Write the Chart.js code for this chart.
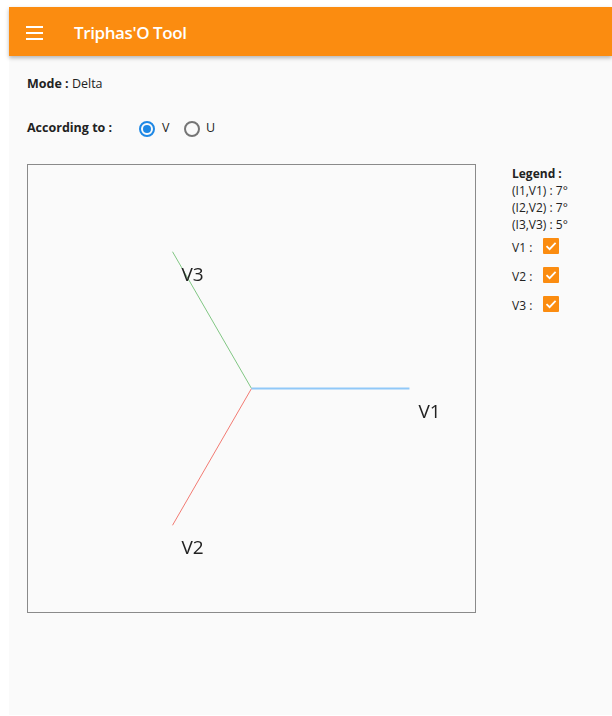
<!DOCTYPE html>
<html lang="en">
<head>
  <meta charset="UTF-8">
  <title>Triphas'O Tool</title>
  <script src="https://cdn.jsdelivr.net/npm/chart.js"></script>
  <style>
    body {
      margin: 0;
      background: #ffffff;
      font-family: "Open Sans", "Noto Sans", sans-serif;
      color: #222;
    }
    .app {
      position: absolute;
      left: 9px;
      top: 7px;
      width: 603px;
      height: 708px;
      background: #fafafa;
    }
    /* orange toolbar */
    .toolbar {
      position: absolute;
      left: 0; top: 0;
      width: 100%;
      height: 49px;
      background: #fb8c10;
      box-shadow: 0 2px 4px rgba(0,0,0,0.28);
    }
    .burger {
      position: absolute;
      left: 17px; top: 19px;
      width: 17px;
    }
    .burger span {
      display: block;
      height: 2px;
      background: #fff;
      margin-bottom: 4px;
    }
    .toolbar .title {
      position: absolute;
      left: 65px; top: 14px;
      font-size: 17px;
      font-weight: 600;
      color: #fff;
      letter-spacing: -0.4px;
    }
    .line {
      position: absolute;
      font-size: 12.5px;
    }
    .line b { font-weight: 700; }
    .radio {
      position: absolute;
      width: 12px; height: 12px;
      border-radius: 50%;
      border: 2px solid #757575;
    }
    .radio.on { border-color: #1e88e5; }
    .radio.on::after {
      content: "";
      position: absolute;
      left: 2px; top: 2px;
      width: 8px; height: 8px;
      border-radius: 50%;
      background: #1e88e5;
    }
    .chart-box {
      position: absolute;
      left: 18px; top: 157px;
      width: 447px; height: 447px;
      border: 1px solid #8a8a8a;
    }
    .legend {
      position: absolute;
      left: 503px; top: 158px;
      font-size: 12px;
      line-height: 17px;
    }
    .chk-row {
      position: absolute;
      left: 503px;
      font-size: 12px;
    }
    .chk {
      position: absolute;
      left: 31px; top: -1px;
      width: 16px; height: 16px;
      background: #fb8c10;
      border-radius: 1px;
    }
  </style>
</head>
<body>
<div class="app">
  <div class="toolbar">
    <div class="burger"><span></span><span></span><span></span></div>
    <div class="title">Triphas'O Tool</div>
  </div>

  <div class="line" style="left:18px; top:68px;"><b>Mode :</b> Delta</div>

  <div class="line" style="left:18px; top:112px;"><b>According to :</b></div>
  <div class="radio on" style="left:130px; top:114px;"></div>
  <div class="line" style="left:153px; top:112px;">V</div>
  <div class="radio" style="left:175px; top:114px;"></div>
  <div class="line" style="left:197px; top:112px;">U</div>

  <div class="chart-box">
    <canvas id="phasorChart" width="447" height="447"></canvas>
  </div>

  <div class="legend">
    <b>Legend :</b><br>
    (I1,V1) : 7°<br>
    (I2,V2) : 7°<br>
    (I3,V3) : 5°
  </div>
  <div class="chk-row" style="top:232px;">V1 :<div class="chk"><svg width="16" height="16"><path d="M3.5 8.2 L6.6 11.2 L12.6 4.8" stroke="#fff" stroke-width="1.8" fill="none"/></svg></div></div>
  <div class="chk-row" style="top:261px;">V2 :<div class="chk"><svg width="16" height="16"><path d="M3.5 8.2 L6.6 11.2 L12.6 4.8" stroke="#fff" stroke-width="1.8" fill="none"/></svg></div></div>
  <div class="chk-row" style="top:290px;">V3 :<div class="chk"><svg width="16" height="16"><path d="M3.5 8.2 L6.6 11.2 L12.6 4.8" stroke="#fff" stroke-width="1.8" fill="none"/></svg></div></div>
</div>

<script>
  // phasor data (per-unit endpoints)
  const phases = ['V1', 'V2', 'V3'];
  const endX = [1, -0.5, -0.5];
  const endY = [0, -0.866, 0.866];
  const colors = ['#90c8f8', '#f27a72', '#80c683'];
  const widths = [2, 1, 1];
  const axisLimit = 1.415;

  const datasets = phases.map(function(name, i) {
    return {
      label: name,
      data: [{x: 0, y: 0}, {x: endX[i], y: endY[i]}],
      showLine: true,
      borderColor: colors[i],
      borderWidth: widths[i],
      pointRadius: 0,
      fill: false
    };
  });

  // draws "V1", "V2", "V3" near the tip of each phasor
  const tipLabels = {
    id: 'tipLabels',
    afterDatasetsDraw(chart) {
      const c = chart.ctx;
      const xs = chart.scales.x, ys = chart.scales.y;
      c.save();
      c.font = '19px "Open Sans", sans-serif';
      c.fillStyle = '#222';
      c.textBaseline = 'alphabetic';
      phases.forEach(function(name, i) {
        const px = xs.getPixelForValue(endX[i]);
        const py = ys.getPixelForValue(endY[i]);
        c.fillText(name, px + 9, py + 29);
      });
      c.restore();
    }
  };

  new Chart(document.getElementById('phasorChart'), {
    type: 'scatter',
    data: { datasets: datasets },
    options: {
      responsive: false,
      animation: false,
      layout: { padding: 0 },
      plugins: { legend: { display: false }, tooltip: { enabled: false } },
      scales: {
        x: { min: -axisLimit, max: axisLimit, display: false },
        y: { min: -axisLimit, max: axisLimit, display: false }
      }
    },
    plugins: [tipLabels]
  });
</script>
</body>
</html>
